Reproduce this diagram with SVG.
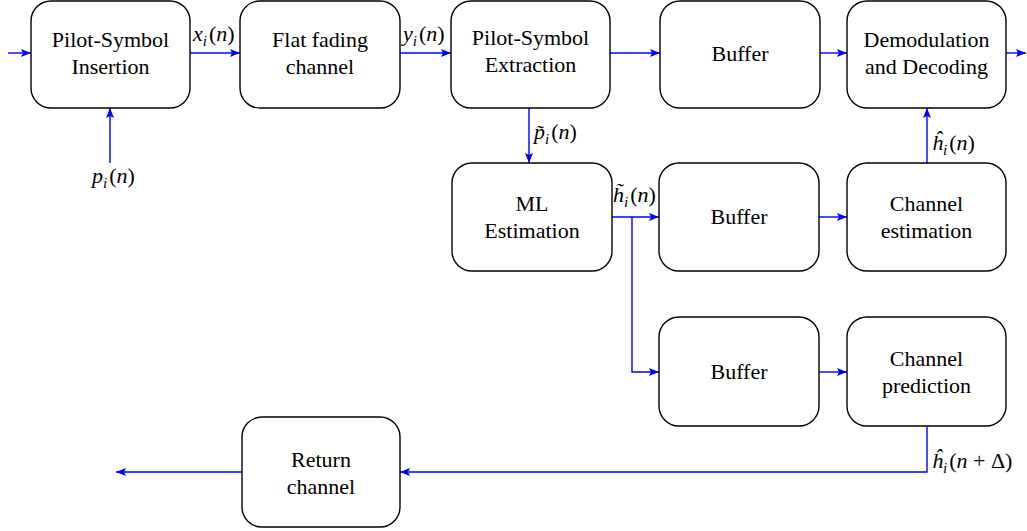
<svg xmlns="http://www.w3.org/2000/svg" width="1027" height="531" viewBox="0 0 1027 531">
<style>
.box{fill:#fff;stroke:#000;stroke-width:1.4}
.t{font-family:"Liberation Serif","Times New Roman",serif;font-size:22px;fill:#000;text-anchor:middle}
.m{font-family:"Liberation Serif","Times New Roman",serif;font-size:22px;fill:#000}
.i{font-style:italic}
.s{font-style:italic;font-size:15px}
.c{fill:none;stroke:#0000ff;stroke-width:1.4;marker-end:url(#ah)}
</style>
<defs>
<marker id="ah" markerUnits="userSpaceOnUse" markerWidth="12" markerHeight="10" refX="10" refY="4" orient="auto">
<path d="M0,0 L10,4 L0,8 L2,4 Z" fill="#0000ff"/>
</marker>
</defs>
<rect width="1027" height="531" fill="#fff"/>
<g id="connectors">
<path class="c" d="M8,53 H31"/>
<path class="c" d="M110,163 V108"/>
<path class="c" d="M190,53 H240"/>
<path class="c" d="M400,53 H451"/>
<path class="c" d="M610,53 H660"/>
<path class="c" d="M820,53 H847"/>
<path class="c" d="M1006,53 H1026"/>
<path class="c" d="M529,108 V163"/>
<path class="c" d="M612,217 H659"/>
<path class="c" d="M632,217 V372 H659"/>
<path class="c" d="M819,217 H847"/>
<path class="c" d="M927,163 V108"/>
<path class="c" d="M819,372 H847"/>
<path class="c" d="M927,427 V472 H400"/>
<path class="c" d="M242,472 H116"/>
<text class="m" x="193" y="41"><tspan class="i">x</tspan><tspan class="s" dy="5">i</tspan><tspan dy="-5" dx="2">(</tspan><tspan class="i">n</tspan>)</text>
<text class="m" x="403" y="41"><tspan class="i">y</tspan><tspan class="s" dy="5">i</tspan><tspan dy="-5" dx="2">(</tspan><tspan class="i">n</tspan>)</text>
<text class="m" x="92" y="183"><tspan class="i">p</tspan><tspan class="s" dy="5">i</tspan><tspan dy="-5" dx="2">(</tspan><tspan class="i">n</tspan>)</text>
<text class="m" x="534" y="139"><tspan class="i">p̃</tspan><tspan class="s" dy="5">i</tspan><tspan dy="-5" dx="2">(</tspan><tspan class="i">n</tspan>)</text>
<text class="m" x="613" y="202"><tspan class="i">h̃</tspan><tspan class="s" dy="5">i</tspan><tspan dy="-5" dx="2">(</tspan><tspan class="i">n</tspan>)</text>
<text class="m" x="932" y="150"><tspan class="i">ĥ</tspan><tspan class="s" dy="5">i</tspan><tspan dy="-5" dx="2">(</tspan><tspan class="i">n</tspan>)</text>
<text class="m" x="932" y="468"><tspan class="i">ĥ</tspan><tspan class="s" dy="5">i</tspan><tspan dy="-5" dx="2">(</tspan><tspan class="i">n</tspan> + Δ)</text>
</g>
<g id="n1"><rect class="box" x="31" y="1" width="159" height="107" rx="20"/><text class="t" x="110.5" y="47">Pilot-Symbol</text><text class="t" x="110.5" y="74">Insertion</text></g>
<g id="n2"><rect class="box" x="240" y="1" width="160" height="107" rx="20"/><text class="t" x="320" y="47">Flat fading</text><text class="t" x="320" y="74">channel</text></g>
<g id="n3"><rect class="box" x="451" y="1" width="159" height="107" rx="20"/><text class="t" x="530.5" y="45">Pilot-Symbol</text><text class="t" x="530.5" y="72">Extraction</text></g>
<g id="n4"><rect class="box" x="660" y="1" width="160" height="107" rx="20"/><text class="t" x="740" y="61">Buffer</text></g>
<g id="n5"><rect class="box" x="847" y="1" width="159" height="107" rx="20"/><text class="t" x="926.5" y="47">Demodulation</text><text class="t" x="926.5" y="74">and Decoding</text></g>
<g id="n6"><rect class="box" x="452" y="163" width="160" height="108" rx="20"/><text class="t" x="532" y="211">ML</text><text class="t" x="532" y="238">Estimation</text></g>
<g id="n7"><rect class="box" x="659" y="163" width="160" height="108" rx="20"/><text class="t" x="739" y="224">Buffer</text></g>
<g id="n8"><rect class="box" x="847" y="163" width="159" height="108" rx="20"/><text class="t" x="926.5" y="211">Channel</text><text class="t" x="926.5" y="238">estimation</text></g>
<g id="n9"><rect class="box" x="659" y="317" width="160" height="109" rx="20"/><text class="t" x="739" y="379">Buffer</text></g>
<g id="n10"><rect class="box" x="847" y="317" width="159" height="109" rx="20"/><text class="t" x="926.5" y="366">Channel</text><text class="t" x="926.5" y="393">prediction</text></g>
<g id="n11"><rect class="box" x="242" y="417" width="158" height="110" rx="20"/><text class="t" x="321" y="467">Return</text><text class="t" x="321" y="494">channel</text></g>
</svg>
